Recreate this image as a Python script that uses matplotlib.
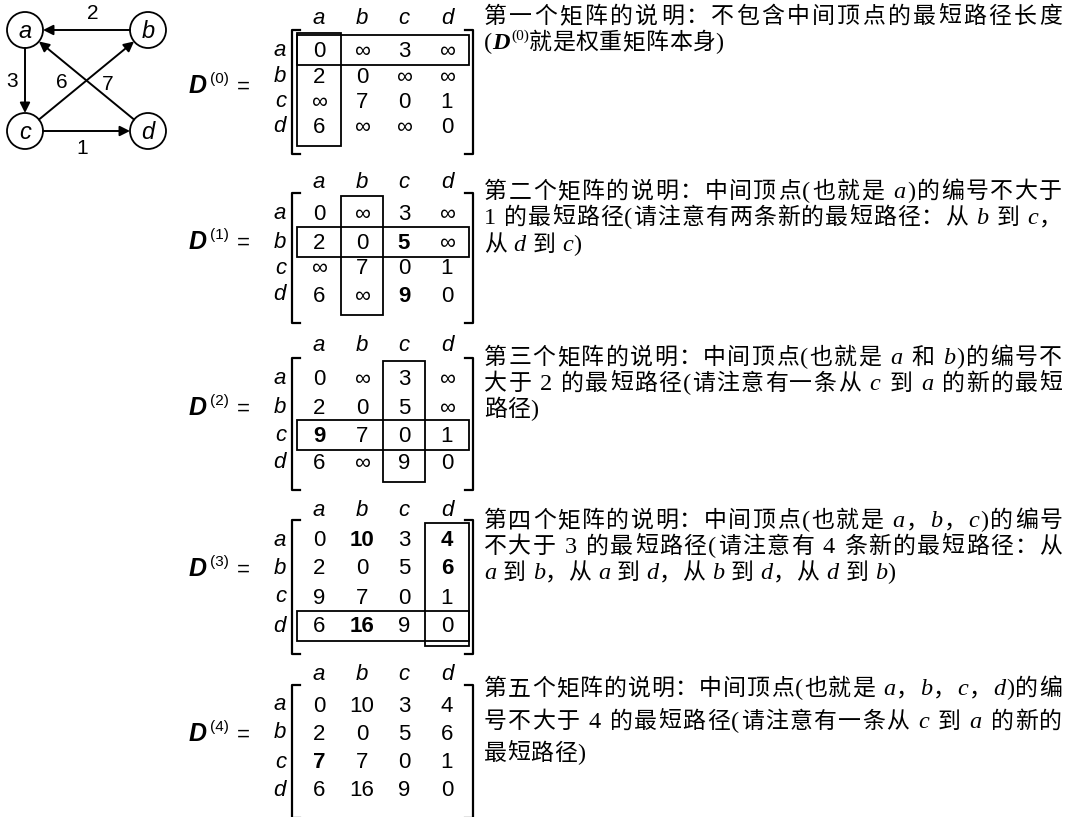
import matplotlib
matplotlib.use('Agg')
import matplotlib.pyplot as plt
from matplotlib.patches import Circle, Rectangle
import numpy as np

INF = np.inf

# graph
nodes = ['a', 'b', 'c', 'd']
node_xy = {'a': (25, 30), 'b': (148, 30), 'c': (25, 131), 'd': (148, 131)}
edges = [('b', 'a', 2), ('a', 'c', 3), ('d', 'a', 6), ('c', 'b', 7), ('c', 'd', 1)]
edge_label_xy = [(93, 13), (12, 81), (62, 82), (108, 84), (82, 148)]

# distance matrices D(0) .. D(4)
D0 = [[0, INF, 3, INF], [2, 0, INF, INF], [INF, 7, 0, 1], [6, INF, INF, 0]]
D1 = [[0, INF, 3, INF], [2, 0, 5, INF], [INF, 7, 0, 1], [6, INF, 9, 0]]
D2 = [[0, INF, 3, INF], [2, 0, 5, INF], [9, 7, 0, 1], [6, INF, 9, 0]]
D3 = [[0, 10, 3, 4], [2, 0, 5, 6], [9, 7, 0, 1], [6, 16, 9, 0]]
D4 = [[0, 10, 3, 4], [2, 0, 5, 6], [7, 7, 0, 1], [6, 16, 9, 0]]
matrices = [D0, D1, D2, D3, D4]
bold_cells = [[], [(1, 2), (3, 2)], [(2, 0)], [(0, 1), (0, 3), (1, 3), (3, 1)], [(2, 0)]]
highlight = [0, 1, 2, 3, None]

# descriptions, *x* = italic letter, § = D^(0)
notes = [
    ["第一个矩阵的说明：不包含中间顶点的最短路径长度",
     "(§就是权重矩阵本身)"],
    ["第二个矩阵的说明：中间顶点(也就是 *a*)的编号不大于",
     "1 的最短路径(请注意有两条新的最短路径：从 *b* 到 *c*，",
     "从 *d* 到 *c*)"],
    ["第三个矩阵的说明：中间顶点(也就是 *a* 和 *b*)的编号不",
     "大于 2 的最短路径(请注意有一条从 *c* 到 *a* 的新的最短",
     "路径)"],
    ["第四个矩阵的说明：中间顶点(也就是 *a*，*b*，*c*)的编号",
     "不大于 3 的最短路径(请注意有 4 条新的最短路径：从",
     "*a* 到 *b*，从 *a* 到 *d*，从 *b* 到 *d*，从 *d* 到 *b*)"],
    ["第五个矩阵的说明：中间顶点(也就是 *a*，*b*，*c*，*d*)的编",
     "号不大于 4 的最短路径(请注意有一条从 *c* 到 *a* 的新的",
     "最短路径)"],
]

# layout
header_y = [18, 182, 345, 510, 675]
row_y = [[50, 76, 101, 126], [213, 242, 268, 295], [378, 407, 435, 462],
         [540, 568, 597, 626], [705, 733, 762, 790]]
label_y = [86, 242, 408, 569, 734]
note_y = [[15, 41], [190, 216, 243], [356, 382, 408], [519, 545, 571], [687, 720, 752]]
col_x = [319, 362, 404, 447]
col_edge = [297, 341, 383, 425, 469]

fig = plt.figure(figsize=(10.67, 8.17), dpi=100)
ax = fig.add_axes([0, 0, 1, 1])
ax.set_xlim(0, 1067)
ax.set_ylim(817, 0)
ax.axis('off')
renderer = fig.canvas.get_renderer()

sans = 'Liberation Sans'
serif = 'Liberation Serif'
cjk = 'Noto Sans CJK SC'

# ---- graph ----
r = 18
for n in nodes:
    x, y = node_xy[n]
    ax.add_patch(Circle((x, y), r, fill=False, lw=1.3, ec='black'))
    ax.text(x, y + 1, n, family=sans, style='italic', fontsize=17, ha='center', va='center')
for (u, v, w), (lx, ly) in zip(edges, edge_label_xy):
    p = np.array(node_xy[u], float)
    q = np.array(node_xy[v], float)
    d = (q - p) / np.linalg.norm(q - p)
    ax.annotate('', xy=q - d * r, xytext=p + d * r,
                arrowprops=dict(arrowstyle='-|>', color='black', lw=1.4,
                                mutation_scale=15, shrinkA=0, shrinkB=0))
    ax.text(lx, ly, str(w), family=sans, fontsize=15, ha='center', va='center')


# ---- matrices ----
def fmt(v):
    return '\u221e' if v == INF else str(int(v))


letters = ['a', 'b', 'c', 'd']
for k, M in enumerate(matrices):
    ry = row_y[k]
    for j, ch in enumerate(letters):
        ax.text(col_x[j], header_y[k], ch, family=sans, style='italic', fontsize=16,
                ha='center', va='center')
        ax.text(286, ry[j], ch, family=sans, style='italic', fontsize=16,
                ha='right', va='center')
    for i in range(4):
        for j in range(4):
            b = (i, j) in bold_cells[k]
            ax.text(col_x[j], ry[i] + 1, fmt(M[i][j]), family=sans, fontsize=16,
                    weight='bold' if b else 'normal', ha='center', va='center')
    # brackets
    top, bot = ry[0] - 20, ry[3] + 28
    ax.plot([300, 292, 292, 300], [top, top, bot, bot], color='black', lw=1.6)
    ax.plot([465, 473, 473, 465], [top, top, bot, bot], color='black', lw=1.6)
    # boxes for row and column k
    h = highlight[k]
    if h is not None:
        ax.add_patch(Rectangle((col_edge[0], ry[h] - 15), col_edge[4] - col_edge[0], 30,
                               fill=False, lw=1.3, ec='black'))
        ax.add_patch(Rectangle((col_edge[h], ry[0] - 17), col_edge[h + 1] - col_edge[h],
                               ry[3] - ry[0] + 37, fill=False, lw=1.3, ec='black'))
    # D^(k) =
    ly = label_y[k]
    ax.text(189, ly + 7, 'D', family=sans, style='italic', weight='bold', fontsize=18,
            ha='left', va='baseline')
    ax.text(210, ly - 3, '(%d)' % k, family=sans, fontsize=11, ha='left', va='baseline')
    ax.text(237, ly + 7, '=', family=sans, fontsize=16, ha='left', va='baseline')


# ---- notes, drawn char by char and justified ----
FS = 16.5


def char_props(ch, ital):
    if ord(ch) > 0x2E80 or ch in '：，':
        return dict(family=cjk, fontsize=FS)
    if ital:
        return dict(family=serif, style='italic', fontsize=FS + 1)
    return dict(family=serif, fontsize=FS + 1)


def draw_line(x0, x1, yc, s, justify):
    base = yc + 8
    items = []
    ital = False
    for ch in s:
        if ch == '*':
            ital = not ital
            continue
        if ch == ' ':
            items.append(([], 6.0))
            continue
        if ch == '§':
            t1 = ax.text(0, base, 'D', family=serif, style='italic', weight='bold',
                         fontsize=FS + 1, va='baseline')
            t2 = ax.text(0, base - 9, '(0)', family=serif, fontsize=11, va='baseline')
            w1 = t1.get_window_extent(renderer).width
            w2 = t2.get_window_extent(renderer).width
            items.append(([(t1, 0), (t2, w1 + 1)], w1 + w2 + 1))
            continue
        t = ax.text(0, base, ch, va='baseline', **char_props(ch, ital))
        items.append(([(t, 0)], t.get_window_extent(renderer).width))
    total = sum(w for _, w in items)
    gap = (x1 - x0 - total) / (len(items) - 1) if justify and len(items) > 1 else 0.4
    x = x0
    for parts, w in items:
        for t, off in parts:
            t.set_x(x + off)
        x += w + gap


for k, lines in enumerate(notes):
    for i, s in enumerate(lines):
        draw_line(484, 1062, note_y[k][i], s, i < len(lines) - 1)

fig.savefig('out.png', dpi=100)
